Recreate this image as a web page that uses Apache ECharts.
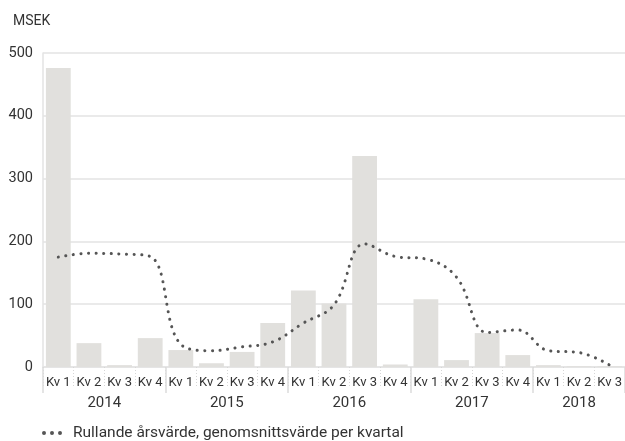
<!DOCTYPE html>
<html>
<head>
<meta charset="utf-8">
<script src="https://cdn.jsdelivr.net/npm/echarts@6/dist/echarts.min.js"></script>
<style>
  html, body { margin: 0; padding: 0; background: #fff; }
  #chart { width: 625px; height: 441px; }
</style>
</head>
<body>
<div id="chart"></div>
<script>
const quarters = [
  'Kv 1', 'Kv 2', 'Kv 3', 'Kv 4',
  'Kv 1', 'Kv 2', 'Kv 3', 'Kv 4',
  'Kv 1', 'Kv 2', 'Kv 3', 'Kv 4',
  'Kv 1', 'Kv 2', 'Kv 3', 'Kv 4',
  'Kv 1', 'Kv 2', 'Kv 3'
]
const years = ['2014', '2015', '2016', '2017', '2018']
// year label sits at this half-quarter point, boundaries at yearBounds
const yearLabelPos = [4, 12, 20, 28, 35]
const yearBounds = [0, 8, 16, 24, 32, 38]

const quarterValues = [476, 38, 3, 46, 27, 6, 24, 70, 122, 101, 336, 4, 108, 11, 54, 19, 3, 1, 1]
const rollingValues = [175, 181, 180, 176, 36, 26, 32, 40, 70, 99, 196, 176, 172, 143, 55, 59, 26, 23, 3]

const yTicks = { min: 0, max: 500, interval: 100 }

// half-quarter points for the year axis
const yearAxisData = []
for (let i = 0; i <= quarters.length * 2; i++) {
  const k = yearLabelPos.indexOf(i)
  yearAxisData.push(k >= 0 ? years[k] : '')
}

const fontFamily = 'Roboto, "Noto Sans", sans-serif'
const textColor = '#333'
const gridColor = '#e3e3e3'

// three small dots for the legend
const dotsIcon = 'path://M2,0A2,2,0,1,1,2,4A2,2,0,1,1,2,0ZM10,0A2,2,0,1,1,10,4A2,2,0,1,1,10,0ZM18,0A2,2,0,1,1,18,4A2,2,0,1,1,18,0Z'

const chart = echarts.init(document.getElementById('chart'))

chart.setOption({
  animation: false,
  textStyle: { fontFamily },
  title: {
    text: 'MSEK',
    left: 8,
    top: 9,
    textStyle: { fontSize: 14, fontWeight: 'normal', color: textColor, fontFamily }
  },
  legend: {
    data: [{ name: 'Rullande årsvärde, genomsnittsvärde per kvartal', icon: dotsIcon }],
    left: 37,
    bottom: -5,
    itemWidth: 20,
    itemHeight: 4,
    itemGap: 8,
    itemStyle: { color: '#555' },
    textStyle: { fontSize: 15.5, color: textColor, fontFamily, padding: [0, 0, 0, 6] }
  },
  grid: {
    left: 43,
    right: -1,
    top: 53,
    bottom: 74
  },
  xAxis: [
    {
      type: 'category',
      data: quarters,
      position: 'bottom',
      axisLine: { show: true, lineStyle: { color: gridColor, width: 1.5 } },
      axisTick: {
        show: true,
        interval: 0,
        length: 19,
        lineStyle: { color: '#d6d6d6', type: [1, 2] }
      },
      axisLabel: {
        interval: 0,
        color: textColor,
        fontSize: 13,
        margin: 9,
        fontFamily
      }
    },
    {
      type: 'category',
      data: yearAxisData,
      boundaryGap: false,
      position: 'bottom',
      axisLine: { show: false },
      axisTick: {
        show: true,
        length: 26,
        interval: (idx) => yearBounds.includes(idx),
        lineStyle: { color: '#dcdcdc', width: 1.5 }
      },
      axisLabel: {
        interval: (idx) => yearLabelPos.includes(idx),
        color: textColor,
        fontSize: 15,
        margin: 29,
        fontFamily
      }
    }
  ],
  yAxis: {
    type: 'value',
    min: yTicks.min,
    max: yTicks.max,
    interval: yTicks.interval,
    axisLine: { show: true, lineStyle: { color: gridColor, width: 1.5 } },
    axisTick: { show: false },
    splitLine: { show: true, lineStyle: { color: gridColor, width: 1.5 } },
    axisLabel: {
      color: textColor,
      fontSize: 14.5,
      margin: 10,
      fontFamily
    }
  },
  series: [
    {
      name: 'Kvartal',
      type: 'bar',
      data: quarterValues,
      xAxisIndex: 0,
      barCategoryGap: '19%',
      itemStyle: { color: '#e1e0dd' }
    },
    {
      name: 'Rullande årsvärde, genomsnittsvärde per kvartal',
      type: 'line',
      data: rollingValues,
      xAxisIndex: 0,
      smooth: 0.4,
      showSymbol: false,
      symbol: 'none',
      lineStyle: {
        color: '#555',
        width: 3,
        type: [0.1, 7.5],
        cap: 'round'
      },
      itemStyle: { color: '#555' }
    }
  ]
})
</script>
</body>
</html>
